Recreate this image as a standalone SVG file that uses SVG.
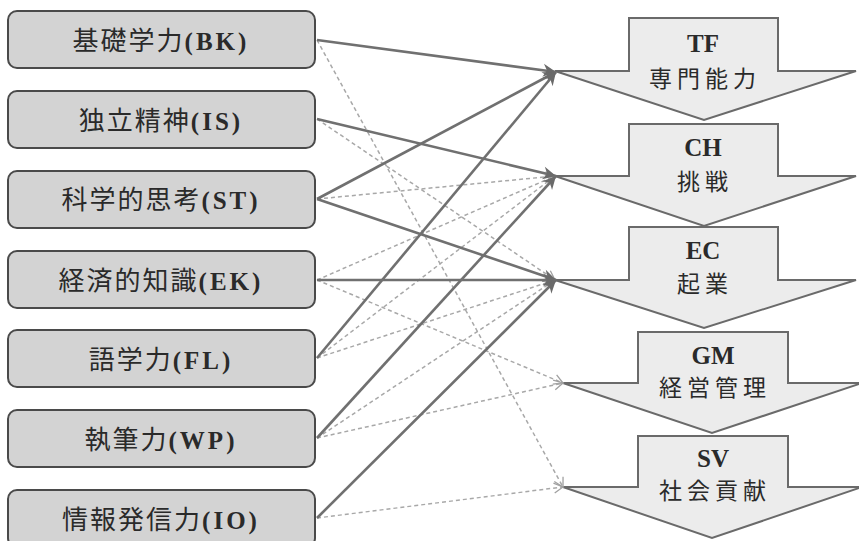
<svg xmlns="http://www.w3.org/2000/svg" width="859" height="541" viewBox="0 0 859 541">
<defs>
<style>
.box{fill:#d3d3d3;stroke:#4a4a4a;stroke-width:2}
.stage{fill:#ececec;stroke:#6a6a6a;stroke-width:2;stroke-linejoin:miter}
.lt{font-family:"Liberation Serif","Noto Sans CJK JP",serif;font-size:26px;letter-spacing:2px;fill:#2a2a2a;text-anchor:middle}
.lt .en{font-weight:bold;font-size:25px;letter-spacing:3px}
.en2{font-family:"Liberation Serif","Noto Sans CJK JP",serif;font-weight:bold;font-size:25px;fill:#2a2a2a;text-anchor:middle}
.jp2{font-family:"Noto Sans CJK JP",sans-serif;font-size:23px;letter-spacing:5px;fill:#2a2a2a;text-anchor:middle}
.solid{stroke:#707070;stroke-width:2.6;fill:none;marker-end:url(#ah)}
.dash{stroke:#a8a8a8;stroke-width:1.5;stroke-dasharray:4 3;fill:none;marker-end:url(#ahd)}
</style>
<marker id="ah" viewBox="-14 -8 16 16" refX="0" refY="0" markerWidth="16" markerHeight="16" markerUnits="userSpaceOnUse" orient="auto">
<path d="M-13,-6.5 L0,0 L-13,6.5 L-9,0 Z" fill="#6a6a6a"/>
</marker>
<marker id="ahd" viewBox="-12 -7 14 14" refX="0" refY="0" markerWidth="14" markerHeight="14" markerUnits="userSpaceOnUse" orient="auto">
<path d="M-9,-5 L0,0 L-9,5" fill="none" stroke="#a0a0a0" stroke-width="1.3"/>
</marker>
</defs>
<rect width="859" height="541" fill="#ffffff"/>

<g id="stage-SV"><path class="stage" d="M638,436 H788 V487 H862 L712,538 L563,487 H638 Z"/><text class="en2" x="713" y="467">SV</text><text class="jp2" x="715" y="499">社会貢献</text></g>
<g id="stage-GM"><path class="stage" d="M638,332 H788 V383 H862 L712,433 L563,383 H638 Z"/><text class="en2" x="713" y="364">GM</text><text class="jp2" x="715" y="396">経営管理</text></g>
<g id="stage-EC"><path class="stage" d="M629,227 H778 V280 H856 L704,328 L555,280 H629 Z"/><text class="en2" x="703" y="259">EC</text><text class="jp2" x="705" y="292">起業</text></g>
<g id="stage-CH"><path class="stage" d="M629,124 H778 V176 H856 L704,226 L555,176 H629 Z"/><text class="en2" x="703" y="156">CH</text><text class="jp2" x="705" y="190">挑戦</text></g>
<g id="stage-TF"><path class="stage" d="M629,18 H778 V71 H856 L704,120 L555,71 H629 Z"/><text class="en2" x="703" y="52">TF</text><text class="jp2" x="705" y="87">専門能力</text></g>

<g id="node-BK"><rect class="box" x="8" y="11" width="307" height="57" rx="9"/><text class="lt" x="161" y="50">基礎学力<tspan class="en">(BK)</tspan></text></g>
<g id="node-IS"><rect class="box" x="8" y="91" width="307" height="57" rx="9"/><text class="lt" x="161" y="130">独立精神<tspan class="en">(IS)</tspan></text></g>
<g id="node-ST"><rect class="box" x="8" y="171" width="307" height="57" rx="9"/><text class="lt" x="161" y="209">科学的思考<tspan class="en">(ST)</tspan></text></g>
<g id="node-EK"><rect class="box" x="8" y="251" width="307" height="57" rx="9"/><text class="lt" x="161" y="290">経済的知識<tspan class="en">(EK)</tspan></text></g>
<g id="node-FL"><rect class="box" x="8" y="330" width="307" height="57" rx="9"/><text class="lt" x="161" y="369">語学力<tspan class="en">(FL)</tspan></text></g>
<g id="node-WP"><rect class="box" x="8" y="410" width="307" height="57" rx="9"/><text class="lt" x="161" y="449">執筆力<tspan class="en">(WP)</tspan></text></g>
<g id="node-IO"><rect class="box" x="8" y="490" width="307" height="57" rx="9"/><text class="lt" x="161" y="529">情報発信力<tspan class="en">(IO)</tspan></text></g>

<g id="connectors">
<line class="dash" x1="317" y1="40" x2="563" y2="487"/>
<line class="dash" x1="317" y1="119" x2="555" y2="280"/>
<line class="dash" x1="317" y1="199" x2="555" y2="176"/>
<line class="dash" x1="317" y1="280" x2="555" y2="176"/>
<line class="dash" x1="317" y1="280" x2="563" y2="383"/>
<line class="dash" x1="317" y1="358" x2="555" y2="176"/>
<line class="dash" x1="317" y1="358" x2="555" y2="280"/>
<line class="dash" x1="317" y1="438" x2="555" y2="280"/>
<line class="dash" x1="317" y1="438" x2="563" y2="383"/>
<line class="dash" x1="317" y1="518" x2="563" y2="487"/>
<line class="solid" x1="317" y1="40" x2="556" y2="72"/>
<line class="solid" x1="317" y1="119" x2="556" y2="176"/>
<line class="solid" x1="317" y1="199" x2="556" y2="72"/>
<line class="solid" x1="317" y1="199" x2="556" y2="280"/>
<line class="solid" x1="317" y1="280" x2="556" y2="280"/>
<line class="solid" x1="317" y1="358" x2="556" y2="72"/>
<line class="solid" x1="317" y1="438" x2="556" y2="176"/>
<line class="solid" x1="317" y1="518" x2="556" y2="280"/>
</g>
</svg>
